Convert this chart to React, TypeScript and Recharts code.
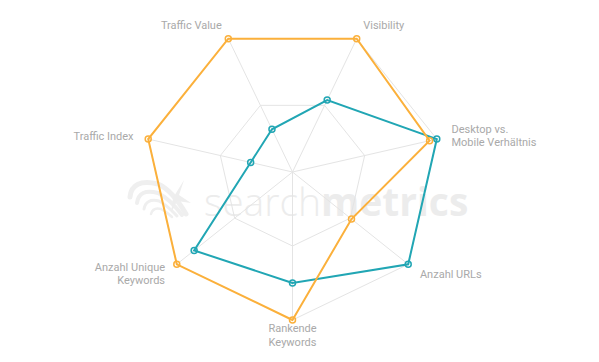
import React from 'react';
import { RadarChart, Radar, PolarGrid, PolarAngleAxis, PolarRadiusAxis } from 'recharts';

// axes, clockwise starting at the bottom spoke
const categories = [
  'Rankende\nKeywords',
  'Anzahl Unique\nKeywords',
  'Traffic Index',
  'Traffic Value',
  'Visibility',
  'Desktop vs.\nMobile Verhältnis',
  'Anzahl URLs',
];
const orangeValues = [100, 100, 100, 100, 100, 95, 51];
const tealValues = [75, 85, 29, 32, 54, 100, 100];

const data = categories.map((name, i) => ({
  name,
  orange: orangeValues[i],
  teal: tealValues[i],
}));

const LABEL_COLOR = '#a9a9a9';

const AxisTick = (props: any) => {
  const { x, y, payload, textAnchor } = props;
  const lines = String(payload.value).split('\n');
  const lh = 13.5;
  const top = y - ((lines.length - 1) * lh) / 2;
  return (
    <text
      x={x}
      y={top}
      textAnchor={textAnchor}
      fill={LABEL_COLOR}
      fontSize={11}
      fontFamily="Roboto, sans-serif"
      dominantBaseline="central"
    >
      {lines.map((l, i) => (
        <tspan key={i} x={x} y={top + i * lh}>
          {l}
        </tspan>
      ))}
    </text>
  );
};

// faint searchmetrics watermark behind the chart
const Watermark = () => (
  <svg width={599} height={362} style={{ position: 'absolute', left: 0, top: 0 }}>
    <g fill="none" stroke="#efefef" strokeLinecap="round">
      <path d="M130 197 Q132 178 158 184 Q172 190 186 214" strokeWidth={5} />
      <path d="M137 203 Q139 188 158 193 Q170 199 182 215" strokeWidth={4} />
      <path d="M144 209 Q146 198 159 201 Q168 206 177 216" strokeWidth={3} />
      <path d="M151 214 Q153 207 161 209 Q167 212 172 217" strokeWidth={2.5} />
    </g>
    <path d="M184 180 L179 195 L191 203 L177 201 L171 213 L173 198 Z" fill="#eeeeee" />
    <text x={204} y={216} fontFamily="'Open Sans', sans-serif" fontSize={39} fill="#ececec">
      <tspan fontWeight={300}>search</tspan>
      <tspan fontWeight={700}>metrics</tspan>
    </text>
  </svg>
);

export default function App() {
  return (
    <div style={{ position: 'absolute', left: 0, top: 0, width: 599, height: 362, background: '#fff' }}>
      <Watermark />
      <div style={{ position: 'absolute', left: 0, top: 0 }}>
        <RadarChart
          width={599}
          height={362}
          data={data}
          cx={292.5}
          cy={172}
          outerRadius={148}
          startAngle={-90}
          endAngle={-450}
        >
          <PolarGrid gridType="polygon" stroke="#e4e4e4" />
          <PolarAngleAxis dataKey="name" tick={<AxisTick />} tickLine={false} tickSize={15} axisLine={false} />
          <PolarRadiusAxis domain={[0, 100]} tickCount={3} tick={false} axisLine={false} />
          <Radar
            dataKey="teal"
            stroke="#21a6b4"
            strokeWidth={2}
            fill="none"
            fillOpacity={0}
            dot={{ r: 3, fill: '#fff', stroke: '#21a6b4', strokeWidth: 1.5 }}
            isAnimationActive={false}
          />
          <Radar
            dataKey="orange"
            stroke="#fbb03b"
            strokeWidth={2}
            fill="none"
            fillOpacity={0}
            dot={{ r: 3, fill: '#fff', stroke: '#fbb03b', strokeWidth: 1.5 }}
            isAnimationActive={false}
          />
        </RadarChart>
      </div>
    </div>
  );
}
